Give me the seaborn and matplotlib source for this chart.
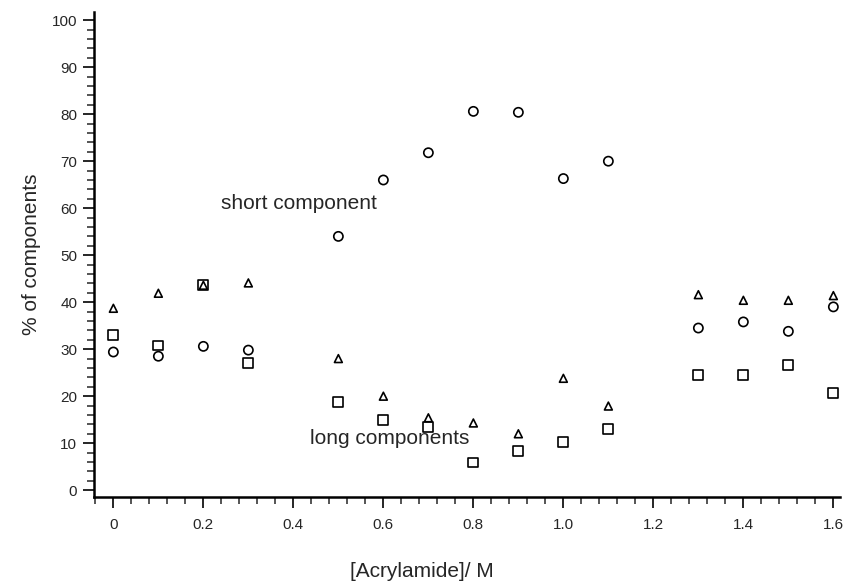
import numpy as np
import pandas as pd
import matplotlib
matplotlib.use('Agg')
import matplotlib.pyplot as plt
from matplotlib.ticker import MultipleLocator
import seaborn as sns

# Values
acrylamide = [0.0, 0.1, 0.2, 0.3, 0.5, 0.6, 0.7, 0.8, 0.9, 1.0, 1.1, 1.3, 1.4, 1.5, 1.6]
short_pct = [29.4, 28.5, 30.6, 29.8, 54.0, 66.0, 71.8, 80.6, 80.4, 66.3, 70.0, 34.5, 35.8, 33.8, 39.0]
long_tri_pct = [38.7, 41.9, 43.6, 44.1, 28.0, 20.0, 15.4, 14.3, 12.0, 23.8, 17.9, 41.6, 40.4, 40.4, 41.4]
long_sq_pct = [33.0, 30.8, 43.6, 27.1, 18.8, 14.9, 13.5, 5.9, 8.4, 10.3, 13.0, 24.5, 24.5, 26.6, 20.6]

df = pd.DataFrame({
    'x': acrylamide * 3,
    'y': short_pct + long_tri_pct + long_sq_pct,
    'series': ['short'] * 15 + ['tri'] * 15 + ['sq'] * 15,
})

sns.set_style('ticks')
plt.rcParams['font.family'] = ['Liberation Sans', 'DejaVu Sans']

fig = plt.figure(figsize=(8.44, 5.81), dpi=100)
ax = fig.add_axes([0.1114, 0.145, 0.884, 0.834])

markers = {'short': ('o', 44), 'tri': ('^', 32), 'sq': ('s', 50)}
for name, (m, s) in markers.items():
    sub = df[df['series'] == name]
    sns.scatterplot(data=sub, x='x', y='y', marker=m, s=s, facecolor='none',
                    edgecolor='black', linewidth=1.2, ax=ax, legend=False)

ax.set_xlim(-0.043, 1.615)
ax.set_ylim(-1.4, 101.7)
ax.xaxis.set_minor_locator(MultipleLocator(0.04))
ax.yaxis.set_major_locator(MultipleLocator(10))
ax.yaxis.set_minor_locator(MultipleLocator(2))
ax.set_xticks(np.arange(0, 1.61, 0.2))
ax.set_xticklabels(['0', '0.2', '0.4', '0.6', '0.8', '1.0', '1.2', '1.4', '1.6'])

ax.tick_params(which='major', length=8, width=1.4, labelsize=11, direction='out', pad=7)
ax.tick_params(which='minor', length=5, width=1.1, direction='out')
ax.tick_params(axis='y', which='major', pad=4)

sns.despine(ax=ax)
for sp in ['left', 'bottom']:
    ax.spines[sp].set_linewidth(1.8)
    ax.spines[sp].set_color('black')

ax.set_xlabel('[Acrylamide]/ M', fontsize=15)
ax.xaxis.set_label_coords(0.44, -0.134)
ax.set_ylabel('% of components', fontsize=15, labelpad=8)

ax.text(0.24, 61, 'short component', fontsize=15, va='center', ha='left')
ax.text(0.437, 11, 'long components', fontsize=15, va='center', ha='left')

fig.savefig('out.png', dpi=100)
